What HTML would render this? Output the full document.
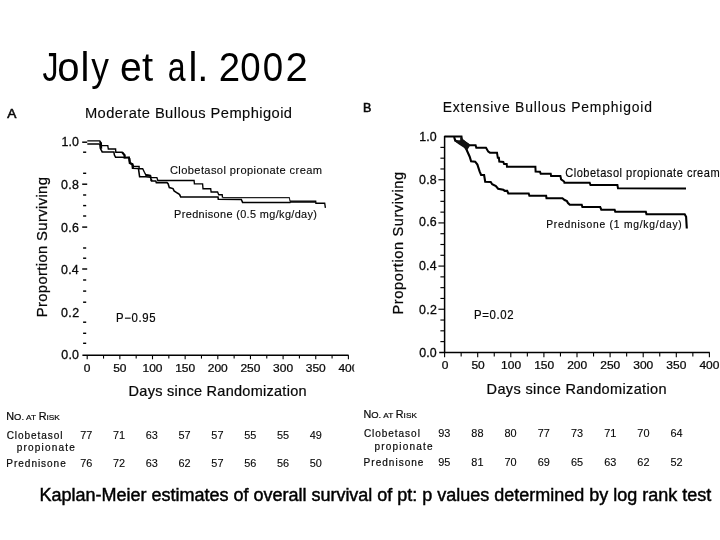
<!DOCTYPE html>
<html><head><meta charset="utf-8"><style>
html,body{margin:0;padding:0;background:#fff;width:720px;height:540px;overflow:hidden}
svg{display:block;will-change:transform;font-family:"Liberation Sans",sans-serif}
</style></head><body>
<svg width="720" height="540" viewBox="0 0 720 540">
<defs><clipPath id="ca"><rect x="0" y="340" width="354.3" height="50"/></clipPath></defs>
<rect width="720" height="540" fill="#fff"/>
<text transform="translate(0,80.8) scale(0.8,1)" x="53.25" y="0" font-size="40" fill="#000" stroke="#000" stroke-width="0">J</text>
<text transform="translate(0,80.8) scale(1.0,1)" x="57.32" y="0" font-size="40" fill="#000" stroke="#000" stroke-width="0">o</text>
<text transform="translate(0,80.8) scale(1.0,1)" x="80.4" y="0" font-size="40" fill="#000" stroke="#000" stroke-width="0">l</text>
<text transform="translate(0,80.8) scale(0.883,1)" x="103.24" y="0" font-size="40" fill="#000" stroke="#000" stroke-width="0">y</text>
<text transform="translate(0,80.8) scale(0.975,1)" x="123.12" y="0" font-size="40" fill="#000" stroke="#000" stroke-width="0">e</text>
<text transform="translate(0,80.8) scale(1.0,1)" x="141.89" y="0" font-size="40" fill="#000" stroke="#000" stroke-width="0">t</text>
<text transform="translate(0,80.8) scale(0.8,1)" x="209.8" y="0" font-size="40" fill="#000" stroke="#000" stroke-width="0">a</text>
<text transform="translate(0,80.8) scale(1.0,1)" x="188.5" y="0" font-size="40" fill="#000" stroke="#000" stroke-width="0">l</text>
<text transform="translate(0,80.8) scale(1.0,1)" x="197.15" y="0" font-size="40" fill="#000" stroke="#000" stroke-width="0">.</text>
<text transform="translate(0,80.8) scale(0.96,1)" x="227.99" y="0" font-size="40" fill="#000" stroke="#000" stroke-width="0">2</text>
<text transform="translate(0,80.8) scale(0.915,1)" x="262.59" y="0" font-size="40" fill="#000" stroke="#000" stroke-width="0">0</text>
<text transform="translate(0,80.8) scale(0.915,1)" x="287.18" y="0" font-size="40" fill="#000" stroke="#000" stroke-width="0">0</text>
<text transform="translate(0,80.8) scale(1.0,1)" x="285.49" y="0" font-size="40" fill="#000" stroke="#000" stroke-width="0">2</text>
<text transform="translate(0,117.9) scale(1.0,1)" x="7.17" y="0" font-size="13.7" fill="#080808" stroke="#080808" stroke-width="0.6">A</text>
<text transform="translate(0,117.8) scale(0.98,1)" x="86.63 99.55 108.33 117.11 125.88 131.31 140.08 144.69 153.46 158.06 168.5 177.27 181.04 184.81 193.58 202.36 210.29 214.89 225.33 234.1 247.03 255.81 264.58 268.35 277.12 285.9 289.67" y="0" font-size="15" fill="#080808" stroke="#080808" stroke-width="0.12">Moderate Bullous Pemphigoid</text>
<text transform="translate(0,146.1) scale(1.0,1)" x="61.56 68.5 71.99" y="0" font-size="12.4" fill="#080808" stroke="#080808" stroke-width="0.3">1.0</text>
<text transform="translate(0,188.9) scale(1.0,1)" x="61.12 68.3 72.04" y="0" font-size="12.4" fill="#080808" stroke="#080808" stroke-width="0.3">0.8</text>
<text transform="translate(0,231.7) scale(1.0,1)" x="61.12 68.31 72.05" y="0" font-size="12.4" fill="#080808" stroke="#080808" stroke-width="0.3">0.6</text>
<text transform="translate(0,273.8) scale(1.0,1)" x="61.12 68.22 71.87" y="0" font-size="12.4" fill="#080808" stroke="#080808" stroke-width="0.3">0.4</text>
<text transform="translate(0,316.6) scale(1.0,1)" x="61.12 68.35 72.13" y="0" font-size="12.4" fill="#080808" stroke="#080808" stroke-width="0.3">0.2</text>
<text transform="translate(0,359.4) scale(1.0,1)" x="61.32 68.38 71.99" y="0" font-size="12.4" fill="#080808" stroke="#080808" stroke-width="0.3">0.0</text>
<line x1="83.1" y1="152.2" x2="86.2" y2="152.2" stroke="#000" stroke-width="1.45"/>
<line x1="83.1" y1="173.3" x2="86.2" y2="173.3" stroke="#000" stroke-width="1.45"/>
<line x1="83.1" y1="195" x2="86.2" y2="195" stroke="#000" stroke-width="1.45"/>
<line x1="83.1" y1="205.6" x2="86.2" y2="205.6" stroke="#000" stroke-width="1.45"/>
<line x1="83.1" y1="216" x2="86.2" y2="216" stroke="#000" stroke-width="1.45"/>
<line x1="83.1" y1="248" x2="86.2" y2="248" stroke="#000" stroke-width="1.45"/>
<line x1="83.1" y1="258.2" x2="86.2" y2="258.2" stroke="#000" stroke-width="1.45"/>
<line x1="83.1" y1="280" x2="86.2" y2="280" stroke="#000" stroke-width="1.45"/>
<line x1="83.1" y1="291.1" x2="86.2" y2="291.1" stroke="#000" stroke-width="1.45"/>
<line x1="83.1" y1="302.2" x2="86.2" y2="302.2" stroke="#000" stroke-width="1.45"/>
<line x1="83.1" y1="322.2" x2="86.2" y2="322.2" stroke="#000" stroke-width="1.45"/>
<line x1="83.1" y1="333.3" x2="86.2" y2="333.3" stroke="#000" stroke-width="1.45"/>
<line x1="83.1" y1="343.3" x2="86.2" y2="343.3" stroke="#000" stroke-width="1.45"/>
<line x1="82.2" y1="142.2" x2="87.2" y2="142.2" stroke="#000" stroke-width="1.45"/>
<line x1="82.2" y1="184.2" x2="87.2" y2="184.2" stroke="#000" stroke-width="1.45"/>
<line x1="82.2" y1="227.1" x2="87.2" y2="227.1" stroke="#000" stroke-width="1.45"/>
<line x1="82.2" y1="269" x2="87.2" y2="269" stroke="#000" stroke-width="1.45"/>
<line x1="82.4" y1="355.2" x2="348.6" y2="355.2" stroke="#000" stroke-width="1.5"/>
<line x1="87.2" y1="355.2" x2="87.2" y2="359.3" stroke="#000" stroke-width="1.1"/>
<line x1="103.525" y1="355.2" x2="103.525" y2="358.6" stroke="#000" stroke-width="1.1"/>
<line x1="119.85" y1="355.2" x2="119.85" y2="359.3" stroke="#000" stroke-width="1.1"/>
<line x1="136.175" y1="355.2" x2="136.175" y2="358.6" stroke="#000" stroke-width="1.1"/>
<line x1="152.5" y1="355.2" x2="152.5" y2="359.3" stroke="#000" stroke-width="1.1"/>
<line x1="168.825" y1="355.2" x2="168.825" y2="358.6" stroke="#000" stroke-width="1.1"/>
<line x1="185.14999999999998" y1="355.2" x2="185.14999999999998" y2="359.3" stroke="#000" stroke-width="1.1"/>
<line x1="201.475" y1="355.2" x2="201.475" y2="358.6" stroke="#000" stroke-width="1.1"/>
<line x1="217.8" y1="355.2" x2="217.8" y2="359.3" stroke="#000" stroke-width="1.1"/>
<line x1="234.125" y1="355.2" x2="234.125" y2="358.6" stroke="#000" stroke-width="1.1"/>
<line x1="250.45" y1="355.2" x2="250.45" y2="359.3" stroke="#000" stroke-width="1.1"/>
<line x1="266.775" y1="355.2" x2="266.775" y2="358.6" stroke="#000" stroke-width="1.1"/>
<line x1="283.09999999999997" y1="355.2" x2="283.09999999999997" y2="359.3" stroke="#000" stroke-width="1.1"/>
<line x1="299.425" y1="355.2" x2="299.425" y2="358.6" stroke="#000" stroke-width="1.1"/>
<line x1="315.75" y1="355.2" x2="315.75" y2="359.3" stroke="#000" stroke-width="1.1"/>
<line x1="332.075" y1="355.2" x2="332.075" y2="358.6" stroke="#000" stroke-width="1.1"/>
<line x1="348.4" y1="355.2" x2="348.4" y2="359.3" stroke="#000" stroke-width="1.1"/>
<g clip-path="url(#ca)">
<text transform="translate(87.2,372.1) scale(1.1,1)" x="0" y="0" text-anchor="middle" font-size="10.9" fill="#080808" stroke="#080808" stroke-width="0.25">0</text>
<text transform="translate(119.85,372.1) scale(1.1,1)" x="0" y="0" text-anchor="middle" font-size="10.9" fill="#080808" stroke="#080808" stroke-width="0.25">50</text>
<text transform="translate(152.5,372.1) scale(1.1,1)" x="0" y="0" text-anchor="middle" font-size="10.9" fill="#080808" stroke="#080808" stroke-width="0.25">100</text>
<text transform="translate(185.15,372.1) scale(1.1,1)" x="0" y="0" text-anchor="middle" font-size="10.9" fill="#080808" stroke="#080808" stroke-width="0.25">150</text>
<text transform="translate(217.8,372.1) scale(1.1,1)" x="0" y="0" text-anchor="middle" font-size="10.9" fill="#080808" stroke="#080808" stroke-width="0.25">200</text>
<text transform="translate(250.45,372.1) scale(1.1,1)" x="0" y="0" text-anchor="middle" font-size="10.9" fill="#080808" stroke="#080808" stroke-width="0.25">250</text>
<text transform="translate(283.1,372.1) scale(1.1,1)" x="0" y="0" text-anchor="middle" font-size="10.9" fill="#080808" stroke="#080808" stroke-width="0.25">300</text>
<text transform="translate(315.75,372.1) scale(1.1,1)" x="0" y="0" text-anchor="middle" font-size="10.9" fill="#080808" stroke="#080808" stroke-width="0.25">350</text>
<text transform="translate(348.4,372.1) scale(1.1,1)" x="0" y="0" text-anchor="middle" font-size="10.9" fill="#080808" stroke="#080808" stroke-width="0.25">400</text>
</g>
<text transform="translate(0,395.7) scale(1.0,1)" x="128.61 139.35 147.69 155.21 162.74 167.04 174.56 178.05 186.39 193.91 202.25 206.55 217.29 225.63 233.97 242.3 250.64 262.99 266.49 274.01 282.35 286.65 290.14 298.48" y="0" font-size="14.5" fill="#080808" stroke="#080808" stroke-width="0.22">Days since Randomization</text>
<text transform="translate(46.7,316.1) rotate(-90) scale(0.97,1)" x="-1.26 9.31 14.77 23.63 32.5 41.37 46.83 51.44 55.2 64.07 72.94 77.55 88.11 96.98 102.44 110.45 114.21 122.22 125.98 134.85" y="0" font-size="15.3" fill="#080808" stroke="#080808" stroke-width="0.25">Proportion Surviving</text>
<text transform="translate(0,173.9) scale(0.95,1)" x="178.88 187.73 190.74 197.65 204.56 211.47 215.13 222.04 228.29 235.2 238.21 241.86 248.77 253.07 259.99 266.9 269.9 276.81 283.72 290.64 294.29 301.2 304.86 311.11 315.41 322.32 329.24" y="0" font-size="11.7" fill="#080808" stroke="#080808" stroke-width="0.12">Clobetasol propionate cream</text>
<text transform="translate(0,217.8) scale(0.95,1)" x="183.27 191.3 195.5 202.26 209.02 215.78 218.7 224.81 231.58 238.34 245.1 248.66 252.85 259.61 263.17 269.93 273.49 283.44 290.2 293.76 299.87 306.63 310.19 316.96 323.72 329.83" y="0" font-size="11.5" fill="#080808" stroke="#080808" stroke-width="0.12">Prednisone (0.5 mg/kg/day)</text>
<text transform="translate(0,321.7) scale(0.95,1)" x="122.07 130.72 138.37 145.69 149.67 156.99" y="0" font-size="12" fill="#080808" stroke="#080808" stroke-width="0.2">P−0.95</text>
<polyline points="87.3,140.8 99.8,140.8 100.6,142.8 101.1,145.6 107.8,145.6 108.3,149 115.6,149 115.8,152.2 122.2,152.2 124.6,155.2 124.6,157.6 129.1,157.4 129.8,163 131.8,163.8 133.8,166.4 139.1,166.4 139.1,168.7 142.7,168.7 144.4,172.2 145.8,174.9 150.7,175.8 151.1,177.6 156.9,177.6 157.8,180.5 194.1,180.5 194.4,183.9 202.6,183.9 203,188.7 210.7,188.7 211.1,192 217.6,192 218.7,194.7 222.2,194.7 222.5,197.6" fill="none" stroke="#000" stroke-width="1.35" stroke-linejoin="miter" stroke-miterlimit="2"/>
<polyline points="222.5,197.6 289.3,197.6 290,201.1" fill="none" stroke="#222" stroke-width="1.1" stroke-linejoin="miter" stroke-miterlimit="2"/>
<polyline points="290,201.1 315.7,201.1 315.9,203.2 324.7,203.2 325.4,207.8" fill="none" stroke="#000" stroke-width="1.35" stroke-linejoin="miter" stroke-miterlimit="2"/>
<polyline points="87.3,144 99.8,144 100.3,148.3 102.2,151.9 113.9,151.9 114.4,155 115.6,157.3 122.4,157.3 124.7,157.6 129.1,157.4 129.8,163 132.4,164.2 132.9,168.2 138.2,168.4 138.6,169.6 139.6,176.7 145.8,176.7 150.4,177.2 151.1,179.3 151.6,180.9 155.8,180.9 156.3,182.6 167,182.6 168.1,183.7 169.3,187.6 173,188.6 174.1,190.9 177,192.8 178.1,193.5 179.6,194.6 180.7,196.9 218,196.9 218.3,199.3 241.3,199.5 242.6,202.4 290,202.4 290.3,201.9 315.7,201.9" fill="none" stroke="#000" stroke-width="1.55" stroke-linejoin="miter" stroke-miterlimit="2"/>
<polyline points="99.8,141.5 101,143 101.2,148.8" fill="none" stroke="#000" stroke-width="2.0" stroke-linejoin="miter" stroke-miterlimit="2"/>
<polyline points="122.2,152.4 124.6,155.2 124.6,158.2" fill="none" stroke="#000" stroke-width="2.1" stroke-linejoin="miter" stroke-miterlimit="2"/>
<polyline points="129.3,158 129.8,163 132.4,164.2 132.9,169" fill="none" stroke="#000" stroke-width="2.2" stroke-linejoin="miter" stroke-miterlimit="2"/>
<polyline points="145.5,175 150.7,175.8" fill="none" stroke="#000" stroke-width="2.0" stroke-linejoin="miter" stroke-miterlimit="2"/>
<polyline points="151.1,179.3 151.6,181.1" fill="none" stroke="#000" stroke-width="2.0" stroke-linejoin="miter" stroke-miterlimit="2"/>
<text transform="translate(0,111.8) scale(1.0,1)" x="362.97" y="0" font-size="12.5" fill="#080808" stroke="#080808" stroke-width="0.6">B</text>
<text transform="translate(0,111.8) scale(0.94,1)" x="471.02 481.76 490.03 495.01 504.12 513.22 521.49 525.65 533.92 543.02 548 558.74 567.84 572 576.16 585.26 594.36 602.63 607.62 618.36 627.46 640.66 649.76 658.86 663.02 672.12 681.22 685.38" y="0" font-size="14.8" fill="#080808" stroke="#080808" stroke-width="0.12">Extensive Bullous Pemphigoid</text>
<text transform="translate(0,140.6) scale(1.0,1)" x="419.36 426.3 429.79" y="0" font-size="12.4" fill="#080808" stroke="#080808" stroke-width="0.3">1.0</text>
<text transform="translate(0,183.9) scale(1.0,1)" x="419.12 426.2 429.84" y="0" font-size="12.4" fill="#080808" stroke="#080808" stroke-width="0.3">0.8</text>
<text transform="translate(0,226.4) scale(1.0,1)" x="419.12 426.21 429.85" y="0" font-size="12.4" fill="#080808" stroke="#080808" stroke-width="0.3">0.6</text>
<text transform="translate(0,270) scale(1.0,1)" x="419.12 426.12 429.67" y="0" font-size="12.4" fill="#080808" stroke="#080808" stroke-width="0.3">0.4</text>
<text transform="translate(0,313.5) scale(1.0,1)" x="419.12 426.25 429.93" y="0" font-size="12.4" fill="#080808" stroke="#080808" stroke-width="0.3">0.2</text>
<text transform="translate(0,356.5) scale(1.0,1)" x="419.22 426.23 429.79" y="0" font-size="12.4" fill="#080808" stroke="#080808" stroke-width="0.3">0.0</text>
<line x1="444.6" y1="135.9" x2="444.6" y2="353" stroke="#000" stroke-width="1.5"/>
<line x1="440.4" y1="147.39" x2="444.6" y2="147.39" stroke="#000" stroke-width="1.15"/>
<line x1="440.4" y1="158.18" x2="444.6" y2="158.18" stroke="#000" stroke-width="1.15"/>
<line x1="440.4" y1="168.97" x2="444.6" y2="168.97" stroke="#000" stroke-width="1.15"/>
<line x1="438.4" y1="179.76" x2="444.6" y2="179.76" stroke="#000" stroke-width="1.15"/>
<line x1="440.4" y1="190.54999999999998" x2="444.6" y2="190.54999999999998" stroke="#000" stroke-width="1.15"/>
<line x1="440.4" y1="201.33999999999997" x2="444.6" y2="201.33999999999997" stroke="#000" stroke-width="1.15"/>
<line x1="440.4" y1="212.13" x2="444.6" y2="212.13" stroke="#000" stroke-width="1.15"/>
<line x1="438.4" y1="222.92" x2="444.6" y2="222.92" stroke="#000" stroke-width="1.15"/>
<line x1="440.4" y1="233.70999999999998" x2="444.6" y2="233.70999999999998" stroke="#000" stroke-width="1.15"/>
<line x1="440.4" y1="244.5" x2="444.6" y2="244.5" stroke="#000" stroke-width="1.15"/>
<line x1="440.4" y1="255.29" x2="444.6" y2="255.29" stroke="#000" stroke-width="1.15"/>
<line x1="438.4" y1="266.08" x2="444.6" y2="266.08" stroke="#000" stroke-width="1.15"/>
<line x1="440.4" y1="276.87" x2="444.6" y2="276.87" stroke="#000" stroke-width="1.15"/>
<line x1="440.4" y1="287.65999999999997" x2="444.6" y2="287.65999999999997" stroke="#000" stroke-width="1.15"/>
<line x1="440.4" y1="298.45" x2="444.6" y2="298.45" stroke="#000" stroke-width="1.15"/>
<line x1="438.4" y1="309.24" x2="444.6" y2="309.24" stroke="#000" stroke-width="1.15"/>
<line x1="440.4" y1="320.03" x2="444.6" y2="320.03" stroke="#000" stroke-width="1.15"/>
<line x1="440.4" y1="330.81999999999994" x2="444.6" y2="330.81999999999994" stroke="#000" stroke-width="1.15"/>
<line x1="440.4" y1="341.61" x2="444.6" y2="341.61" stroke="#000" stroke-width="1.15"/>
<line x1="439.2" y1="352.4" x2="709.8" y2="352.4" stroke="#000" stroke-width="1.5"/>
<line x1="444.6" y1="352.4" x2="444.6" y2="357.2" stroke="#000" stroke-width="1.1"/>
<line x1="461.15000000000003" y1="352.4" x2="461.15000000000003" y2="356.6" stroke="#000" stroke-width="1.1"/>
<line x1="477.70000000000005" y1="352.4" x2="477.70000000000005" y2="357.2" stroke="#000" stroke-width="1.1"/>
<line x1="494.25" y1="352.4" x2="494.25" y2="356.6" stroke="#000" stroke-width="1.1"/>
<line x1="510.8" y1="352.4" x2="510.8" y2="357.2" stroke="#000" stroke-width="1.1"/>
<line x1="527.35" y1="352.4" x2="527.35" y2="356.6" stroke="#000" stroke-width="1.1"/>
<line x1="543.9000000000001" y1="352.4" x2="543.9000000000001" y2="357.2" stroke="#000" stroke-width="1.1"/>
<line x1="560.45" y1="352.4" x2="560.45" y2="356.6" stroke="#000" stroke-width="1.1"/>
<line x1="577.0" y1="352.4" x2="577.0" y2="357.2" stroke="#000" stroke-width="1.1"/>
<line x1="593.5500000000001" y1="352.4" x2="593.5500000000001" y2="356.6" stroke="#000" stroke-width="1.1"/>
<line x1="610.1" y1="352.4" x2="610.1" y2="357.2" stroke="#000" stroke-width="1.1"/>
<line x1="626.6500000000001" y1="352.4" x2="626.6500000000001" y2="356.6" stroke="#000" stroke-width="1.1"/>
<line x1="643.2" y1="352.4" x2="643.2" y2="357.2" stroke="#000" stroke-width="1.1"/>
<line x1="659.75" y1="352.4" x2="659.75" y2="356.6" stroke="#000" stroke-width="1.1"/>
<line x1="676.3000000000001" y1="352.4" x2="676.3000000000001" y2="357.2" stroke="#000" stroke-width="1.1"/>
<line x1="692.85" y1="352.4" x2="692.85" y2="356.6" stroke="#000" stroke-width="1.1"/>
<line x1="709.4000000000001" y1="352.4" x2="709.4000000000001" y2="357.2" stroke="#000" stroke-width="1.1"/>
<text transform="translate(445,369.3) scale(1.1,1)" x="0" y="0" text-anchor="middle" font-size="10.9" fill="#080808" stroke="#080808" stroke-width="0.25">0</text>
<text transform="translate(478.05,369.3) scale(1.1,1)" x="0" y="0" text-anchor="middle" font-size="10.9" fill="#080808" stroke="#080808" stroke-width="0.25">50</text>
<text transform="translate(511.1,369.3) scale(1.1,1)" x="0" y="0" text-anchor="middle" font-size="10.9" fill="#080808" stroke="#080808" stroke-width="0.25">100</text>
<text transform="translate(544.15,369.3) scale(1.1,1)" x="0" y="0" text-anchor="middle" font-size="10.9" fill="#080808" stroke="#080808" stroke-width="0.25">150</text>
<text transform="translate(577.2,369.3) scale(1.1,1)" x="0" y="0" text-anchor="middle" font-size="10.9" fill="#080808" stroke="#080808" stroke-width="0.25">200</text>
<text transform="translate(610.25,369.3) scale(1.1,1)" x="0" y="0" text-anchor="middle" font-size="10.9" fill="#080808" stroke="#080808" stroke-width="0.25">250</text>
<text transform="translate(643.3,369.3) scale(1.1,1)" x="0" y="0" text-anchor="middle" font-size="10.9" fill="#080808" stroke="#080808" stroke-width="0.25">300</text>
<text transform="translate(676.35,369.3) scale(1.1,1)" x="0" y="0" text-anchor="middle" font-size="10.9" fill="#080808" stroke="#080808" stroke-width="0.25">350</text>
<text transform="translate(709.4,369.3) scale(1.1,1)" x="0" y="0" text-anchor="middle" font-size="10.9" fill="#080808" stroke="#080808" stroke-width="0.25">400</text>
<text transform="translate(0,393.7) scale(1.0,1)" x="486.61 497.44 505.87 513.47 521.08 525.47 533.08 536.66 545.09 552.7 561.12 565.51 576.34 584.76 593.19 601.61 610.03 622.47 626.05 633.66 642.08 646.47 650.05 658.48" y="0" font-size="14.5" fill="#080808" stroke="#080808" stroke-width="0.22">Days since Randomization</text>
<text transform="translate(403.3,313.3) rotate(-90) scale(0.97,1)" x="-1.23 9.4 15.03 24 32.98 41.95 47.57 52.37 56.33 65.31 74.28 79.08 89.71 98.69 104.31 112.44 116.4 124.53 128.5 137.47" y="0" font-size="15.0" fill="#080808" stroke="#080808" stroke-width="0.25">Proportion Surviving</text>
<text transform="translate(0,176.7) scale(0.93,1)" x="607.78 616.91 620.09 627.24 634.39 641.54 645.38 652.53 659.02 666.17 669.35 673.19 680.34 684.83 691.98 699.14 702.31 709.47 716.62 723.77 727.61 734.76 738.6 745.08 749.58 756.73 763.88" y="0" font-size="11.9" fill="#080808" stroke="#080808" stroke-width="0.15">Clobetasol propionate cream</text>
<text transform="translate(0,227.9) scale(0.95,1)" x="574.9 582.94 587.36 594.19 601.03 607.86 611.09 617.32 624.16 630.99 637.82 641.65 646.08 652.91 656.74 666.57 673.4 677.23 683.46 690.29 694.12 700.96 707.79 714.02" y="0" font-size="10.8" fill="#080808" stroke="#080808" stroke-width="0.18">Prednisone (1 mg/kg/day)</text>
<text transform="translate(0,318.7) scale(0.95,1)" x="499.02 507.68 515.36 522.7 526.7 534.03" y="0" font-size="12" fill="#080808" stroke="#080808" stroke-width="0.2">P=0.02</text>
<polyline points="444.5,136.6 461.5,136.6 461.9,139.6 465.2,142.2 469.3,145.2 475.6,145.2 476.3,147.8 486,147.8 488.2,151.5 490,152.7 497,152.7 497.8,157.8 498.9,157.8 499.3,161.5 503.3,161.9 504.1,164.1 506.7,164.1 507,166.8 535.4,166.8 535.6,171.5 540,171.8 540.7,173.7 550.7,173.7 551.1,175.9 560.4,175.9 561.1,179.3 564.1,181.5 564.4,182.7 589.7,182.8 590.5,185 617.4,185 618,188.3 686,188.5" fill="none" stroke="#000" stroke-width="2.0" stroke-linejoin="miter" stroke-miterlimit="2"/>
<polyline points="454.1,137 455.2,140.4 459.3,142.6 464.5,145.9 466.7,150 469.7,156.7 471.1,161.3 475.2,161.7 477.4,164.6 479.6,171.3 481.1,175 484.1,175 485.2,181.7 490.7,182 492.2,184.3 495.9,186.1 498.1,188.7 503.3,189.8 504.8,190.9 507.2,190.9 508.3,193.5 528.7,193.5 529.4,195.7 546.1,195.7 546.5,198.2 562.4,198.2 564.6,200 566.9,201.1 568,203 569.8,204.8 581.7,204.8 582.4,207 600.2,207 601.3,209.6 614.6,209.7 615.3,211.8 645.8,211.8 646.5,214.3 684.7,214.3 686.1,216.7 686.8,228.5" fill="none" stroke="#000" stroke-width="2.1" stroke-linejoin="miter" stroke-miterlimit="2"/>
<polygon points="454.3,140.3 460.2,140.3 460.2,137.4 461.5,137.2 462.8,139.6 469.7,144.3 469.7,146.3 467.2,150.2 464.3,148 458.2,144 454.2,141" fill="#111"/>
<text transform="translate(6.31,419.7) scale(1.049,1)" x="0" y="0" font-size="10.3" fill="#080808" stroke="#080808" stroke-width="0.2">N</text>
<text transform="translate(14.12,419.7) scale(1.049,1)" x="0" y="0" font-size="9.0" fill="#080808" stroke="#080808" stroke-width="0.2">O.</text>
<text transform="translate(26.12,419.7) scale(1.049,1)" x="0" y="0" font-size="7.9" fill="#080808" stroke="#080808" stroke-width="0.2">AT</text>
<text transform="translate(38.75,419.7) scale(1.049,1)" x="0" y="0" font-size="10.3" fill="#080808" stroke="#080808" stroke-width="0.2">R</text>
<text transform="translate(46.56,419.7) scale(1.049,1)" x="0" y="0" font-size="7.9" fill="#080808" stroke="#080808" stroke-width="0.2">ISK</text>
<text transform="translate(0,438.6) scale(0.95,1)" x="7.04 15.66 18.97 25.82 32.68 39.53 43.44 50.29 56.55 63.41" y="0" font-size="10.6" fill="#080808" stroke="#080808" stroke-width="0.2">Clobetasol</text>
<text transform="translate(0,451.4) scale(0.95,1)" x="17.63 24.74 29.49 36.6 43.72 47.29 54.4 61.51 68.62 72.79" y="0" font-size="10.6" fill="#080808" stroke="#080808" stroke-width="0.2">propionate</text>
<text transform="translate(0,466.7) scale(0.95,1)" x="6.71 14.77 19.28 26.16 33.04 39.92 43.26 49.55 56.43 63.31" y="0" font-size="10.6" fill="#080808" stroke="#080808" stroke-width="0.2">Prednisone</text>
<text transform="translate(86.2,439) scale(1.08,1)" x="0" y="0" text-anchor="middle" font-size="10.1" fill="#080808" stroke="#080808" stroke-width="0.1">77</text>
<text transform="translate(86.2,467.3) scale(1.08,1)" x="0" y="0" text-anchor="middle" font-size="10.1" fill="#080808" stroke="#080808" stroke-width="0.1">76</text>
<text transform="translate(119,439) scale(1.08,1)" x="0" y="0" text-anchor="middle" font-size="10.1" fill="#080808" stroke="#080808" stroke-width="0.1">71</text>
<text transform="translate(119,467.3) scale(1.08,1)" x="0" y="0" text-anchor="middle" font-size="10.1" fill="#080808" stroke="#080808" stroke-width="0.1">72</text>
<text transform="translate(151.8,439) scale(1.08,1)" x="0" y="0" text-anchor="middle" font-size="10.1" fill="#080808" stroke="#080808" stroke-width="0.1">63</text>
<text transform="translate(151.8,467.3) scale(1.08,1)" x="0" y="0" text-anchor="middle" font-size="10.1" fill="#080808" stroke="#080808" stroke-width="0.1">63</text>
<text transform="translate(184.6,439) scale(1.08,1)" x="0" y="0" text-anchor="middle" font-size="10.1" fill="#080808" stroke="#080808" stroke-width="0.1">57</text>
<text transform="translate(184.6,467.3) scale(1.08,1)" x="0" y="0" text-anchor="middle" font-size="10.1" fill="#080808" stroke="#080808" stroke-width="0.1">62</text>
<text transform="translate(217.4,439) scale(1.08,1)" x="0" y="0" text-anchor="middle" font-size="10.1" fill="#080808" stroke="#080808" stroke-width="0.1">57</text>
<text transform="translate(217.4,467.3) scale(1.08,1)" x="0" y="0" text-anchor="middle" font-size="10.1" fill="#080808" stroke="#080808" stroke-width="0.1">57</text>
<text transform="translate(250.2,439) scale(1.08,1)" x="0" y="0" text-anchor="middle" font-size="10.1" fill="#080808" stroke="#080808" stroke-width="0.1">55</text>
<text transform="translate(250.2,467.3) scale(1.08,1)" x="0" y="0" text-anchor="middle" font-size="10.1" fill="#080808" stroke="#080808" stroke-width="0.1">56</text>
<text transform="translate(283,439) scale(1.08,1)" x="0" y="0" text-anchor="middle" font-size="10.1" fill="#080808" stroke="#080808" stroke-width="0.1">55</text>
<text transform="translate(283,467.3) scale(1.08,1)" x="0" y="0" text-anchor="middle" font-size="10.1" fill="#080808" stroke="#080808" stroke-width="0.1">56</text>
<text transform="translate(315.8,439) scale(1.08,1)" x="0" y="0" text-anchor="middle" font-size="10.1" fill="#080808" stroke="#080808" stroke-width="0.1">49</text>
<text transform="translate(315.8,467.3) scale(1.08,1)" x="0" y="0" text-anchor="middle" font-size="10.1" fill="#080808" stroke="#080808" stroke-width="0.1">50</text>
<text transform="translate(363.52,417.8) scale(1.045,1)" x="0" y="0" font-size="10.3" fill="#080808" stroke="#080808" stroke-width="0.2">N</text>
<text transform="translate(371.29,417.8) scale(1.045,1)" x="0" y="0" font-size="9.0" fill="#080808" stroke="#080808" stroke-width="0.2">O.</text>
<text transform="translate(383.25,417.8) scale(1.045,1)" x="0" y="0" font-size="7.9" fill="#080808" stroke="#080808" stroke-width="0.2">AT</text>
<text transform="translate(395.84,417.8) scale(1.045,1)" x="0" y="0" font-size="10.3" fill="#080808" stroke="#080808" stroke-width="0.2">R</text>
<text transform="translate(403.61,417.8) scale(1.045,1)" x="0" y="0" font-size="7.9" fill="#080808" stroke="#080808" stroke-width="0.2">ISK</text>
<text transform="translate(0,436.8) scale(0.95,1)" x="383.04 391.68 395.02 401.89 408.77 415.65 419.58 426.46 432.74 439.62" y="0" font-size="10.6" fill="#080808" stroke="#080808" stroke-width="0.2">Clobetasol</text>
<text transform="translate(0,449.7) scale(0.95,1)" x="394.16 401.28 406.04 413.17 420.29 423.87 431 438.12 445.24 449.42" y="0" font-size="10.6" fill="#080808" stroke="#080808" stroke-width="0.2">propionate</text>
<text transform="translate(0,465.6) scale(0.95,1)" x="382.71 390.82 395.4 402.34 409.28 416.22 419.62 425.96 432.9 439.84" y="0" font-size="10.6" fill="#080808" stroke="#080808" stroke-width="0.2">Prednisone</text>
<text transform="translate(444.2,437.2) scale(1.08,1)" x="0" y="0" text-anchor="middle" font-size="10.1" fill="#080808" stroke="#080808" stroke-width="0.1">93</text>
<text transform="translate(444.2,465.9) scale(1.08,1)" x="0" y="0" text-anchor="middle" font-size="10.1" fill="#080808" stroke="#080808" stroke-width="0.1">95</text>
<text transform="translate(477.4,437.2) scale(1.08,1)" x="0" y="0" text-anchor="middle" font-size="10.1" fill="#080808" stroke="#080808" stroke-width="0.1">88</text>
<text transform="translate(477.4,465.9) scale(1.08,1)" x="0" y="0" text-anchor="middle" font-size="10.1" fill="#080808" stroke="#080808" stroke-width="0.1">81</text>
<text transform="translate(510.6,437.2) scale(1.08,1)" x="0" y="0" text-anchor="middle" font-size="10.1" fill="#080808" stroke="#080808" stroke-width="0.1">80</text>
<text transform="translate(510.6,465.9) scale(1.08,1)" x="0" y="0" text-anchor="middle" font-size="10.1" fill="#080808" stroke="#080808" stroke-width="0.1">70</text>
<text transform="translate(543.8,437.2) scale(1.08,1)" x="0" y="0" text-anchor="middle" font-size="10.1" fill="#080808" stroke="#080808" stroke-width="0.1">77</text>
<text transform="translate(543.8,465.9) scale(1.08,1)" x="0" y="0" text-anchor="middle" font-size="10.1" fill="#080808" stroke="#080808" stroke-width="0.1">69</text>
<text transform="translate(577,437.2) scale(1.08,1)" x="0" y="0" text-anchor="middle" font-size="10.1" fill="#080808" stroke="#080808" stroke-width="0.1">73</text>
<text transform="translate(577,465.9) scale(1.08,1)" x="0" y="0" text-anchor="middle" font-size="10.1" fill="#080808" stroke="#080808" stroke-width="0.1">65</text>
<text transform="translate(610.2,437.2) scale(1.08,1)" x="0" y="0" text-anchor="middle" font-size="10.1" fill="#080808" stroke="#080808" stroke-width="0.1">71</text>
<text transform="translate(610.2,465.9) scale(1.08,1)" x="0" y="0" text-anchor="middle" font-size="10.1" fill="#080808" stroke="#080808" stroke-width="0.1">63</text>
<text transform="translate(643.4,437.2) scale(1.08,1)" x="0" y="0" text-anchor="middle" font-size="10.1" fill="#080808" stroke="#080808" stroke-width="0.1">70</text>
<text transform="translate(643.4,465.9) scale(1.08,1)" x="0" y="0" text-anchor="middle" font-size="10.1" fill="#080808" stroke="#080808" stroke-width="0.1">62</text>
<text transform="translate(676.6,437.2) scale(1.08,1)" x="0" y="0" text-anchor="middle" font-size="10.1" fill="#080808" stroke="#080808" stroke-width="0.1">64</text>
<text transform="translate(676.6,465.9) scale(1.08,1)" x="0" y="0" text-anchor="middle" font-size="10.1" fill="#080808" stroke="#080808" stroke-width="0.1">52</text>
<text transform="translate(0,500.7) scale(1.0,1)" x="39.62 51.62 61.62 71.62 75.61 85.61 95.61 101.6 116.58 126.58 130.57 140.58 146.56 151.55 161.55 170.54 175.53 179.52 194.51 204.51 209.5 219.5 228.49 233.48 243.49 248.48 253.47 263.47 272.46 282.46 288.45 298.45 302.44 306.43 311.42 320.41 330.41 336.39 345.38 349.37 358.36 368.37 372.35 377.35 387.35 392.34 397.33 407.33 412.32 417.31 422.31 432.31 437.3 446.29 456.29 460.28 470.28 480.28 489.27 494.26 504.26 514.27 519.26 529.26 535.24 550.23 554.22 564.22 574.22 584.22 589.21 599.21 608.2 613.2 617.19 627.19 637.19 642.18 648.16 658.16 668.17 677.16 682.15 687.14 697.14 706.13" y="0" font-size="18" fill="#000" stroke="#000" stroke-width="0.45">Kaplan-Meier estimates of overall survival of pt: p values determined by log rank test</text>
</svg>
</body></html>
